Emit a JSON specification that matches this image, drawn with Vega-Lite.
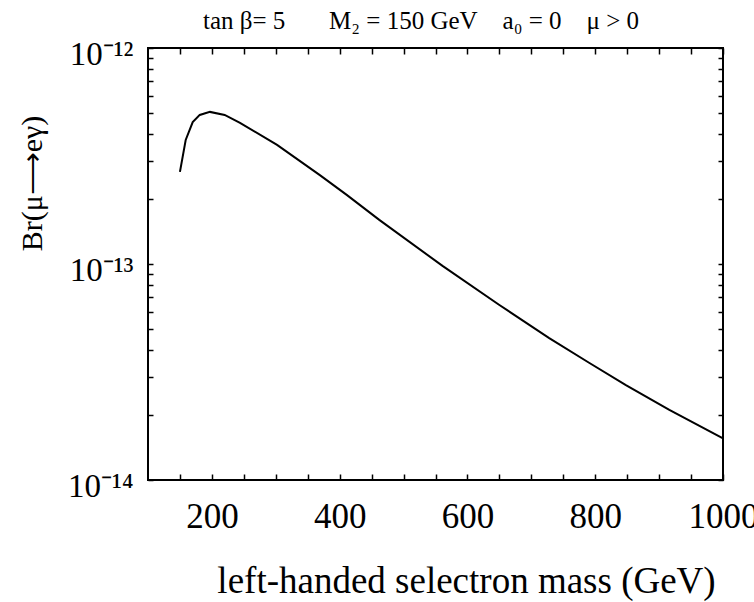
{
  "$schema": "https://vega.github.io/schema/vega-lite/v6.json",
  "autosize": {"type": "none"},
  "padding": {"left": 148, "top": 48, "right": 31, "bottom": 122},
  "width": 575,
  "height": 432,
  "background": "white",
  "config": {
    "view": {"stroke": "black", "strokeWidth": 2},
    "font": "Liberation Serif",
    "axis": {"domain": false, "grid": false, "tickColor": "black", "tickWidth": 1.5, "labelColor": "black", "titleColor": "black", "labelFont": "Liberation Serif", "titleFont": "Liberation Serif", "titleFontWeight": "normal"}
  },
  "title": {
    "text": "tan\u00a0β=\u00a05\u00a0\u00a0\u00a0\u00a0\u00a0\u00a0\u00a0M₂\u00a0=\u00a0150\u00a0GeV\u00a0\u00a0\u00a0\u00a0a₀\u00a0=\u00a00\u00a0\u00a0\u00a0\u00a0μ\u00a0>\u00a00",
    "anchor": "start",
    "frame": "group",
    "dx": 55,
    "dy": 34,
    "offset": 18,
    "baseline": "alphabetic",
    "font": "Liberation Serif",
    "fontSize": 25,
    "fontWeight": "normal",
    "color": "black"
  },
  "data": {
    "values": [
      {"mass": 150, "br": 2.67e-13},
      {"mass": 159, "br": 3.75e-13},
      {"mass": 170, "br": 4.54e-13},
      {"mass": 181, "br": 4.9e-13},
      {"mass": 197, "br": 5.06e-13},
      {"mass": 220, "br": 4.9e-13},
      {"mass": 244, "br": 4.5e-13},
      {"mass": 302, "br": 3.56e-13},
      {"mass": 369, "br": 2.58e-13},
      {"mass": 411, "br": 2.09e-13},
      {"mass": 462, "br": 1.6e-13},
      {"mass": 561, "br": 9.8e-14},
      {"mass": 650, "br": 6.46e-14},
      {"mass": 728, "br": 4.54e-14},
      {"mass": 791, "br": 3.48e-14},
      {"mass": 848, "br": 2.75e-14},
      {"mass": 916, "br": 2.11e-14},
      {"mass": 1000, "br": 1.56e-14}
    ]
  },
  "layer": [
    {
      "mark": {"type": "line", "color": "black", "strokeWidth": 2, "clip": true},
      "encoding": {
        "x": {
          "field": "mass", "type": "quantitative",
          "scale": {"domain": [100, 1000], "nice": false, "zero": false},
          "axis": {
            "orient": "bottom",
            "values": [150, 200, 250, 300, 350, 400, 450, 500, 550, 600, 650, 700, 750, 800, 850, 900, 950, 1000],
            "format": "d",
            "labelExpr": "datum.value % 200 == 0 ? datum.label : ''",
            "labelOverlap": false,
            "labelFlush": false,
            "labelBound": false,
            "labelFontSize": 35,
            "labelBaseline": "alphabetic",
            "labelPadding": 53,
            "tickSize": -6,
            "title": "left-handed selectron mass (GeV)",
            "titleFontSize": 37,
            "titleX": 318,
            "titleY": 112,
            "titleAlign": "center",
            "titleBaseline": "alphabetic"
          }
        },
        "y": {
          "field": "br", "type": "quantitative",
          "scale": {"type": "log", "domain": [1e-14, 1e-12], "nice": false},
          "axis": {
            "orient": "left",
            "values": [1e-14, 2e-14, 3e-14, 4e-14, 5e-14, 6e-14, 7e-14, 8e-14, 9e-14, 1e-13, 2e-13, 3e-13, 4e-13, 5e-13, 6e-13, 7e-13, 8e-13, 9e-13, 1e-12],
            "labelExpr": "abs(log(datum.value)/LN10 - round(log(datum.value)/LN10)) < 0.001 ? (round(log(datum.value)/LN10) == -12 ? '10⁻¹²' : round(log(datum.value)/LN10) == -13 ? '10⁻¹³' : '10⁻¹⁴') : ''",
            "labelOverlap": false,
            "labelFlush": false,
            "labelBound": false,
            "labelFontSize": 33,
            "labelAlign": "right",
            "labelBaseline": "middle",
            "labelOffset": 6,
            "labelPadding": 20,
            "tickSize": -5,
            "title": "Br(μ⟶eγ)",
            "titleFontSize": 30,
            "titleAngle": -90,
            "titleX": -116,
            "titleY": 135,
            "titleAlign": "center",
            "titleBaseline": "middle"
          }
        }
      }
    },
    {
      "mark": {"type": "line", "opacity": 0},
      "encoding": {
        "x": {
          "field": "mass", "type": "quantitative",
          "axis": {
            "orient": "top",
            "values": [150, 200, 250, 300, 350, 400, 450, 500, 550, 600, 650, 700, 750, 800, 850, 900, 950, 1000],
            "labels": false,
            "tickSize": -6,
            "title": null
          }
        },
        "y": {
          "field": "br", "type": "quantitative",
          "axis": {
            "orient": "right",
            "values": [1e-14, 2e-14, 3e-14, 4e-14, 5e-14, 6e-14, 7e-14, 8e-14, 9e-14, 1e-13, 2e-13, 3e-13, 4e-13, 5e-13, 6e-13, 7e-13, 8e-13, 9e-13, 1e-12],
            "labels": false,
            "tickSize": -5,
            "title": null
          }
        }
      }
    }
  ],
  "resolve": {"axis": {"x": "independent", "y": "independent"}}
}
